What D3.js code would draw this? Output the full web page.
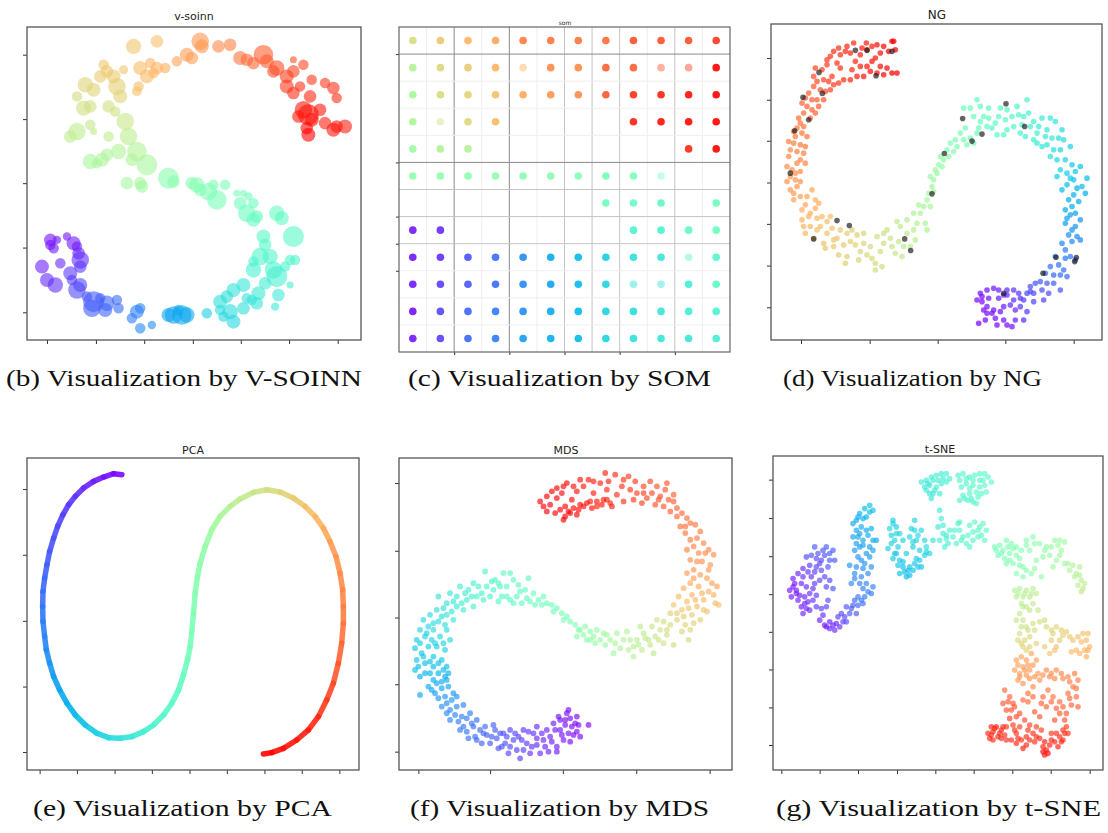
<!DOCTYPE html>
<html>
<head>
<meta charset="utf-8">
<script src="https://cdn.jsdelivr.net/npm/d3@7"></script>
<style>
  body { margin: 0; background: #fff; }
  .title { font-family: "DejaVu Sans", sans-serif; fill: #222; text-anchor: middle; }
  .caption { font-family: "Liberation Serif", "DejaVu Serif", serif; font-size: 24px; fill: #111; }
  .tick line { stroke: #333; }
</style>
</head>
<body>
<svg id="fig" width="1108" height="833"></svg>
<script>
// ---------- data (arbitrary units per panel) ----------
// V-SOINN nodes: [x, y, weight, colour position]
const soinnNodes = [
  [40,86,2.2,.72],[47,87.5,1.8,.73],[60,87.5,2.5,.8],[60.5,86,2,.8],[65.5,86,1.8,.82],[69,86.5,1.8,.83],
  [56,83.5,2,.79],[57.5,82.5,1.8,.79],[53,81.5,1.5,.78],[49.5,79.5,1.5,.76],[47,79.5,1.8,.75],[45,81,1.5,.75],
  [42,79.5,2,.74],[44,77,2,.74],[46,78,1.5,.75],[41.5,74,1.5,.73],[41,72.5,1.4,.73],[37,79,1.3,.72],
  [31,80.5,1.5,.72],[32,78.5,1.8,.72],[30,77,1.8,.71],[34,77,2,.71],[25.5,74.5,2.2,.69],[28,73,2,.69],
  [23,71,1.5,.67],[35,74,2.5,.7],[36,71,2,.69],[25,67.5,2.2,.66],[27,68,1.8,.66],[32.5,68,1.8,.66],
  [34.5,66.5,1.5,.65],[37.5,63.5,2.5,.64],[27,62.5,1.5,.63],[28,60.5,1,.63],[23,60.5,2.5,.62],[21,59,1.8,.62],
  [32.5,59,1.5,.62],[38.5,59,2.5,.62],[41,54.5,2.8,.6],[35.5,54.5,2.2,.6],[32,53.5,1.8,.59],[30.5,52,2,.59],
  [27,51.5,2.2,.58],[29,51,1.5,.58],[44,50.5,3,.58],[39.5,52,1.8,.59],[38,45,1.8,.57],[42,45,1.8,.57],[42.5,44,1.8,.57],
  [72,82.5,2,.85],[74,82,1.8,.86],[79,83.5,2.8,.88],[80,81.5,2,.88],[76,81,1.8,.87],[83,79.5,2.2,.9],
  [82,78.5,1.8,.9],[88,82,1,.9],[88,78.5,1.8,.91],[91,80.5,1.5,.91],[86,77,2,.92],[93.5,76,1.5,.93],
  [97.5,75,1.5,.93],[100,73.5,1.8,.94],[101,70.5,1.5,.94],[86,74,2,.93],[90,74,1.5,.94],[88,72,1.8,.94],
  [93,71,1.8,.95],[91,67,2.5,.97],[92.5,65.5,3,.98],[96,67,1.8,.97],[89.5,65,1.8,.97],[93.5,64,2,.98],
  [97.5,63,1.8,.96],[92,61.5,1.8,.99],[92.5,59.5,2,1],[100,61,2,.97],[103.5,62,2,.96],[101,62,1.8,.97],
  [50.5,46.5,3,.52],[52,45.5,1.8,.52],[57.5,45,1.8,.51],[59,44.5,2.2,.51],[60,43,1.8,.5],[62.5,42.5,2.5,.5],
  [65,40,2.8,.49],[64,44.5,1.5,.5],[67.5,44.5,1.5,.49],[71,42,1,.48],[73,42,1,.48],[74.5,41,1.2,.47],
  [72,39,1.8,.47],[76,39,1.5,.46],[74,36,2.5,.46],[77,35,1.8,.45],[76,34,2,.45],[83,36,2.2,.45],[84.5,34.5,2,.44],
  [88,29,3,.43],[79,29,2,.43],[79.5,26.5,1.8,.42],[78,23,2.5,.41],[81,23,2.2,.41],[76,21.5,1.5,.4],
  [87,22,1.5,.41],[88.5,22,1.5,.41],[76,19,2.2,.39],[82,19,2.5,.4],[83,17,3,.39],[85.5,20,1.5,.4],
  [87,14.5,1,.38],[83.5,11.5,1.8,.37],[82.5,8,1.2,.37],[79.5,15,1.8,.38],[77.5,12,2,.37],[77,9,1.8,.36],
  [73,14.5,2,.36],[70,13,2,.35],[68,11,1.8,.34],[66,9.5,2,.34],[66,7,1.5,.33],[69,6.5,2.2,.33],
  [73,7.5,1.8,.34],[70,3.5,2,.32],[67,5,1.5,.32],[74,10.5,1.5,.35],[75.5,10,1.5,.35],[62,6,1.5,.3],
  [54.5,5.5,2.8,.23],[56,5.5,2.2,.23],[52,5.5,2.5,.22],[50.5,5.5,2,.22],[53.5,7,1.5,.23],[41,6.5,2,.17],
  [42,7.5,1.5,.17],[39.5,4.5,1.5,.16],[42,1.5,1.5,.18],[45.5,2.5,1.2,.19],[35,10,1.5,.14],[35.5,7.5,1.5,.14],
  [32,9,2.2,.13],[31.5,7,2,.13],[30,10.5,1.5,.12],[28,9.5,3,.12],[27.5,7.5,2.5,.12],[26,11,1.5,.11],
  [23,13,2.5,.09],[24,14.5,2,.09],[21.5,16,1.5,.08],[21,18,2,.07],[24,20,1.8,.07],[24,22,2.5,.06],
  [23.5,24,1.8,.05],[23,26,1.5,.04],[22,27,2,.03],[20,29,1.2,.02],[18,21,1.5,.05],[15,28,1.8,.02],
  [16,25.5,1.5,.03],[15,26.5,1.5,.02],[17,28,1.2,.02],[12.5,20,2,.04],[14,16,2,.05],[16.5,14.5,2.2,.06]
];
const soinnXTicks = [14, 28.7, 43.2, 57.8, 72.2, 86.7, 101.3];
const soinnYTicks = [83.5, 64.2, 45, 25.7, 6.3];

// SOM: colour position of the unit in each grid cell (null = empty cell)
const somValues = [
  [.67,.72,.75,.78,.84,.85,.85,.86,.90,.90,.90,.93],
  [.60,.68,.71,.75,.76,.82,.82,.88,.88,.90,.92,1],
  [.58,.67,.69,.73,.77,.80,.82,.89,.94,.96,.98,1],
  [.59,.66,.68,.74,null,null,null,null,.96,.98,.99,1],
  [.56,.60,.61,null,null,null,null,null,null,null,.95,1],
  [.53,.53,.53,.53,.52,.52,.51,.48,.50,.50,null,null],
  [null,null,null,null,null,null,null,.46,.45,.44,null,.46],
  [.03,.05,null,null,null,null,null,null,.40,.40,.44,.46],
  [.03,.06,.10,.14,.18,.23,.26,.30,.34,.36,.42,.41],
  [.03,.08,.11,.14,.18,.22,.26,.31,.33,.35,.38,.43],
  [.02,.09,.13,.16,.19,.23,.26,.31,.33,.36,.38,.40],
  [.03,.08,.13,.16,.21,.24,.26,.31,.34,.36,.36,.38]
];
const somPale = [[1,4],[1,9],[1,10],[3,1],[5,9],[8,10],[9,8],[9,9]];
const somDarkCols = [2, 4], somMidCols = [6, 7, 8, 10];
const somDarkRows = [1, 5], somMidRows = [6, 7, 8];
const somXTicks = [2, 4, 6, 8, 10];
const somYTicks = [1, 5, 7, 8, 9];

// NG: data samples [x, y, colour position] and the black network nodes [x, y]
const ngSamples = [
  [46,87.5,1],[46.5,85,1],[44.5,84.5,1],[45.5,87.5,1],[42,84,.98],[40.5,82.5,.97],[39.5,81.5,.97],[38,85,.97],
  [37.8,87,.96],[39.5,86,.96],[36,83.5,.96],[34.5,81.5,.95],[33,84,.95],[31.5,84.5,.95],[30,83.5,.94],[29,81,.94],
  [28,84.5,.94],[27,83,.93],[34,87,.95],[38,80,.97],[39,78.5,.98],[41,78,.98],[43,77.5,.99],[45.5,78,1],
  [37,77,.97],[35,77,.96],[33,76,.95],[31,76,.94],[29.5,75,.93],[28,74.5,.92],[26.5,75.5,.92],[25,76,.91],
  [23,75.5,.9],[22.5,79.5,.91],[24.5,79,.92],[26,80.5,.92],[24,73,.9],[25.5,72.5,.9],[27,73,.91],[22,74,.89],
  [20.5,72,.88],[21.5,70,.88],[23,70,.88],[25,70,.89],[20,68,.87],[21.5,67,.87],[23.5,68,.88],[18.5,69,.87],
  [19,66,.86],[17.5,64.5,.86],[21,64.5,.86],[19,62,.85],[17,61.5,.85],[16,60.5,.84],[18.5,60,.85],[20,59,.85],
  [14.5,57.5,.83],[16,57,.83],[18,56.5,.84],[19.5,56,.84],[15,55,.82],[17,54.5,.83],[19,54,.83],[14.5,53,.82],
  [18,52,.82],[19.5,51,.82],[14,50,.81],[15.5,49,.81],[18,48.5,.81],[15,47,.8],[16.5,46,.8],[14,45.5,.8],
  [18,45.5,.8],[15,43,.79],[16,40,.78],[20,41,.77],[21.5,43,.77],[22.5,40,.76],[23.5,39,.76],[18.5,37,.76],
  [21,36,.75],[23,34.5,.74],[24.5,35,.74],[27,35,.73],[26,33.5,.73],[18.5,34,.75],[19,32,.75],[21,32,.74],
  [24,32,.73],[19.5,30,.74],[22,28.5,.73],[25,27,.72],[25.5,25.5,.72],[28,26,.71],[29,28.5,.71],[30,31,.71],
  [32,30,.7],[33.5,31,.7],[35,29.5,.69],[29.5,23.5,.7],[32,23,.69],[31.5,21,.69],[34.5,26.5,.69],[37,30,.68],
  [37,27,.68],[36,24.5,.68],[39,26,.67],[39.5,22.5,.67],[40.5,21,.67],[40.5,19,.66],[42.5,20,.66],[41,29,.66],
  [43,30,.65],[44,31,.65],[45,28.5,.65],[45.5,26,.65],[46.5,24,.64],[48.5,23,.63],[49,26,.63],[48,32,.63],
  [47,33.5,.62],[50,34,.62],[52,31,.61],[52.5,28,.61],[51,26,.61],[56,31,.6],[55.5,33,.59],[54,36,.59],
  [52,36,.59],[55,38,.58],[56,40,.57],[56.5,42,.57],[57.5,44,.56],[58,46,.56],[59,48,.55],[57,47,.56],
  [59.5,50.5,.55],[61,52,.54],[60,53,.54],[62.5,53,.53],[64,54.5,.52],[63,57,.51],[65,56,.5],[66,60,.49],
  [67,58,.49],[68,56.5,.49],[69,58.5,.48],[70,57,.47],
  [71,60,.46],[71.5,61.5,.46],[67,67.5,.46],[69,67.5,.46],[71,70,.45],[72,68,.45],[74.5,67.5,.44],[70,65,.46],
  [73,65,.45],[74,62,.44],[75.5,61.5,.43],[76.5,63,.43],[77,59.5,.43],[79,59.5,.42],[80,61,.42],[78,67.5,.43],
  [80,67,.42],[83,68,.41],[86,70,.40],[83.5,65.5,.41],[85,65,.40],[82,62,.41],[84,60,.40],[85.5,59,.39],
  [88,58,.38],[87,62,.39],[88,63.5,.38],[90.5,64.5,.37],[93,64.5,.36],[94.5,63.5,.35],[89.5,62,.37],[92,61,.36],
  [89,57,.37],[90.5,56,.36],[92,56.5,.35],[94,55,.34],[93,53,.34],[96.5,61,.33],[97,58,.33],[99,56,.31],
  [96,55,.32],[95,52,.32],[96,49,.31],[95,47,.3],[98,48,.3],[99.5,50.5,.29],[102,50,.28],[104,46.5,.27],
  [100,46,.28],[98,44.5,.27],[101,43.5,.25],[103.5,42,.24],[96.5,43,.27],[98.5,40,.24],[101.5,39.5,.23],
  [97.5,37,.23],[99,35.5,.22],[102,34,.2],[97.5,33,.22],[99.5,31,.2],[101,29,.19],[102,28,.18],[98.5,29.5,.19],
  [96.5,27,.18],[97.5,25,.17],[99,23,.16],[100.5,22,.15],[94.5,23,.17],[95.5,20.5,.15],[98,17,.14],[97,19,.14],
  [93,20,.15],[91.5,18,.13],[92,15,.12],[94,15,.12],[96,13,.11],[90,15.5,.12],[88.5,15,.11],[87,14,.1],
  [88,12,.1],[91,10,.09],[90.5,13,.1],[86,12,.09],[85,10,.08],[84,8,.08],[86,6.5,.08],[82,13,.07],[83.5,12,.07],
  [80,13,.06],[80,11.5,.06],[82,10,.06],[79,11.5,.05],[81,8.5,.05],[77.5,13,.04],[76,13.5,.03],[74,13,.02],
  [72,12,.02],[71,10,.01],[72.5,9.5,.01],[74,8,.02],[76,7,.02],[74,6,.02],[75.5,6,.02],[71.5,3,0],[73.5,4,.01],
  [77,2.5,.01],[80,2.5,.02],[81.5,2,.03],[82.5,4,.04],[85,4,.05],[77.5,10.5,.04],[79,8,.04],
  [43,86,.99],[41,86.5,.98],[36.5,85.5,.96],[32,86,.95],[29.5,85.5,.94],[26,82,.93],[30,79.5,.94],[33.5,79,.95],
  [36,80,.96],[42,80,.98],[44,79.5,.99],[47,78,1],[27.5,77,.92],[22,77,.9],[19.5,70.5,.87],[22.5,66,.87],
  [18,63,.85],[16.5,59,.84],[17,51,.82],[16.5,48,.81],[17,44,.8],[16,42,.79],[18,41,.78],[19.5,38.5,.77],
  [20.5,35,.75],[22.5,37.5,.76],[23,31,.73],[26,30,.72],[27.5,31.5,.72],[28,28,.71],[31,26.5,.7],[33,27.5,.7],
  [35.5,22,.68],[38,23.5,.67],[42,24.5,.66],[43,27,.66],[47.5,27.5,.64],[50,30,.62],[53,33,.6],[53.5,38.5,.59],
  [57,38,.58],[58,42.5,.57],[58.5,49,.56],[60.5,50,.55],[62,55,.52],[64.5,58,.5],[67.5,61.5,.48],[72,63.5,.46],
  [74.5,64.5,.45],[77.5,65,.44],[79.5,64,.43],[81.5,65,.42],[84.5,62.5,.41],[86.5,66,.40],[89,60,.38],
  [91.5,59,.37],[93.5,58.5,.36],[95.5,58.5,.34],[97.5,52,.31],[99,46.5,.29],[100.5,48.5,.29],[102.5,44,.27],
  [100,41.5,.25],[99.5,38,.24],[100.5,36,.22],[98,34.5,.22],[100.5,32,.2],[99.5,27.5,.18],[97.5,22.5,.16],
  [96,17.5,.14],[94,17.5,.13],[92.5,12,.1],[88,9.5,.09],[87,12.5,.09],[84,10.5,.07],[82.5,7,.05],[78,6.5,.02],
  [79,4,.02],[76.5,4.5,.02],[73,7,.01],[72.5,11,.01],[74.5,10.5,.02]
];
const ngNodes = [
  [34.5,84.8],[38,84.8],[45.5,84.5],[23.6,78.2],[40.7,77.2],[24.6,71.9],[18.8,70.7],[20.5,64],[16.3,60.7],
  [15,48],[29,33.8],[32.7,32.3],[22,28.3],[49.3,28.3],[51.1,24.8],[57.5,41.8],[61.2,53.9],[66.7,64.4],
  [69.5,57.6],[72.5,59.7],[79.7,68.8],[85.3,62],[94.7,22.8],[100.8,22.7],[100.3,21.5],[90.8,18],[79,12]
];
const ngXTicks = [18.2, 38.8, 59.2, 79.5, 100];
const ngYTicks = [82.5, 70, 57.7, 45.2, 32.8, 20.3, 7.8];

// PCA: samples along the embedded curve [x, y, colour position]
const pcaCurve = [
  [36.5,89.5,0],[34,89.8,.01],[31,88.8,.02],[28,87.5,.03],[25,85.5,.05],[22.5,83,.06],[20.5,80.5,.07],
  [18.8,77.5,.08],[17.2,74,.09],[16,70.5,.1],[14.8,66.5,.11],[14,62.5,.12],[13.3,58.5,.13],[12.8,54.5,.14],
  [12.7,50,.15],[12.8,45.5,.16],[13.3,41,.17],[13.8,37,.18],[14.8,33,.19],[16,29,.21],[17.8,25,.22],
  [20,21,.24],[22.5,17.5,.26],[25.5,14.5,.28],[29,12,.3],[32.5,10.7,.32],[36,10.5,.34],[39.5,11,.36],
  [43,12.5,.38],[46,14.5,.4],[49,17.5,.42],[51.5,21,.43],[53.5,25,.44],[55,29.5,.45],[56.2,34,.47],
  [57,38,.48],[57.5,42.5,.49],[58,48,.5],[58.5,54,.51],[59.2,59,.52],[60,63,.53],[61.5,68,.54],
  [63.5,73,.56],[66,77,.58],[69,80,.6],[72,82.2,.62],[76,84.2,.64],[80,85,.66],[84,84.3,.68],[88,82.5,.7],
  [91.5,80,.72],[94.5,77,.74],[97,73.5,.76],[99,69.5,.78],[100.8,65,.8],[102,60,.81],[102.8,55,.82],
  [103,50,.83],[103,45,.84],[102.5,39,.86],[101.5,33,.88],[100,27,.9],[98,22,.92],[95.5,17,.94],
  [92.5,13,.96],[89,10,.97],[85,7.5,.98],[81.5,6.2,.99],[79,5.8,1]
];
const pcaXTicks = [11.8, 23, 34.3, 45.5, 56.8, 68, 79.3, 90.5, 101.8];
const pcaYTicks = [85.2, 65.5, 45.7, 26, 6.4];

// MDS samples [x, y, colour position]
const mdsSamples = [
  [51,81.5,1],[53,83,1],[54.5,84.5,1],[54,80.5,1],[56,82.5,1],[57.5,84,.99],[59,87,.99],[58.5,80,1],[58,76,1],
  [60,78,1],[60.5,82,.99],[62,84.5,.98],[62.5,79,.99],[64,80,.98],[64,86,.97],[65.5,88,.97],[66,81.5,.97],
  [67,84,.97],[68,80,.96],[69,87,.96],[70,82,.96],[70.5,90,.96],[71,85,.95],[72,81,.95],[73.5,89.5,.95],
  [74,83.5,.94],[75.5,86,.94],[76,81.5,.94],[77.5,89,.93],[78,85,.93],[79,82,.93],[80,84,.92],[81.5,81,.92],
  [82,86,.92],[83,82.5,.91],[84,87.5,.91],[84.5,84,.91],[85.5,80.5,.9],[86,86,.9],[87,83,.9],[88,80,.89],
  [88.5,85,.89],[89.5,82,.89],[91,81.5,.88],[90,78.5,.88],[92,77,.87],[93.5,78,.87],[95,76.5,.86],[93,74,.86],
  [96,75,.85],[97.5,74.5,.85],[94.5,72,.85],[96,70,.84],[99,72.5,.84],[97,68,.83],[100,69,.83],[95,67,.83],
  [98.5,66,.82],[101.5,67,.82],[103,65.5,.81],[96,64,.81],[99.5,63.5,.81],[102,62.5,.8],[97,61,.8],[95,60,.79],
  [99,59.5,.79],[101,58.5,.78],[104,56,.78],[96,57,.77],[98.5,56,.77],[101.5,54.5,.76],[94,55.5,.76],
  [96.5,53.5,.75],[100,52,.75],[103.5,51,.74],[92.5,53,.74],[95,51.5,.73],[98,50,.73],[101,48.5,.72],
  [91,50.5,.72],[93.5,49,.71],[96.5,47.5,.71],[99,46,.7],[90,48,.7],[92,46,.69],[94.5,44.5,.69],[97,45,.69],
  [95.5,40,.68],[93.5,42.5,.68],[90,44.5,.67],[88,45.5,.66],[86,46,.65],[87,43,.65],[89,41.5,.66],[91,38.5,.66],
  [84.5,44,.64],[85.5,41,.64],[88,39,.65],[83.5,40,.63],[85,36,.63],[82,42,.62],[81,44,.62],[80,40,.61],
  [79,38,.61],[81.5,37,.62],[79,35,.6],[77,42.5,.6],[76,40,.59],[74,42,.58],[75,37.5,.58],[73,36,.57],
  [72,40,.57],[70,42,.56],[69,40,.55],[68,43,.55],[67,41,.54],[66,42.5,.53],[65,40,.53],[64,41.5,.52],
  [64.5,44,.52],[62.5,43,.51],[61.5,44.5,.5],[60,45.5,.5],[59,47,.49],[57.5,48,.49],[56,49.5,.48],
  [54.5,50.5,.48],[53,51,.47],[52,53,.47],[50.5,52,.46],[49,54,.46],[49.5,50.5,.46],[47.5,58.5,.45],
  [47,52.5,.45],[45.5,51,.45],[45,54.5,.44],[44,53,.44],[43,51,.44],[42,52,.43],[42,60,.43],[40,60,.43],
  [41,56,.43],[39.5,53,.42],[38.5,57,.42],[37.5,58,.42],[37,55,.41],[36,53,.41],[34.5,60.5,.41],[35,56,.41],
  [34,52,.4],[32.5,56,.4],[32,53,.4],[31,50,.39],[29.5,55,.39],[29,52,.38],[28,49,.38],[27,56,.38],
  [26,53,.37],[26,50,.37],[25,46,.36],[24,54,.36],[23,51,.35],[23,47.5,.35],[22.5,44.5,.34],[20.5,53,.35],
  [20,49,.34],[20.5,45.5,.33],[19,43,.32],[18,47.5,.33],[16,46,.32],[17.5,44,.32],[16.5,41,.31],[15,43,.31],
  [14,40,.3],[18.5,40,.31],[21,41,.32],[24,40,.32],[22.5,37,.3],[20,38,.3],[17.5,38,.3],[13.5,37.5,.29],
  [15.5,36,.28],[19,35,.28],[21.5,34,.28],[23,32,.27],[14,34,.28],[16.5,33,.27],[19,32,.26],[13.5,31,.27],
  [15,29,.25],[18,30,.25],[20.5,30,.25],[22.5,29,.24],[23.5,30,.24],[17.5,26,.23],[20,27,.23],[21.5,25.5,.22],
  [23.5,26,.22],[15,23.5,.22],[19.5,24,.21],[22.5,23,.2],[24.5,22,.2],[26,23,.19],[21.5,20,.19],[24,19,.18],
  [26,20,.18],[28,20.5,.17],[27.5,17,.17],[24,16,.17],[30,18,.16],[30.5,15,.15],[28,14,.15],[27,13,.15],
  [32,16,.14],[33,13,.14],[29.5,10.5,.14],[34.5,14,.13],[35,11.5,.12],[32,10,.13],[37.5,13,.12],[38,10.5,.11],
  [36,9,.11],[40,12,.1],[40.5,9,.1],[38.5,7.5,.1],[42,13,.09],[43,10,.09],[41.5,6,.09],[44,7,.08],
  [44.5,11,.08],[46,13,.07],[47,9,.07],[45,4.5,.08],[48,6,.06],[49,12,.06],[50,14,.05],[50,8.5,.05],
  [51,6,.05],[52,10,.04],[53,13,.04],[53.5,6.5,.04],[55,15,.03],[54.5,9.5,.03],[56,6.5,.03],[56.5,17,.02],
  [57,13,.02],[58,10,.02],[59.5,19,.01],[60,16.5,.01],[60.5,14,.01],[61,11.5,.01],[60,9.5,.01],[62,17,0],
  [62.5,14.5,0],[63,11,0],[65.5,14.5,0],[58.5,16,.01],
  [58.5,77,1],[59.5,78.5,1],[61,79.5,.99],[62,77.5,.99],[63,80.5,.99],[65,81,.98],[66.5,79.5,.98],[68,81.5,.97],
  [69.5,80.5,.97],[71,82,.96],[72.5,80,.96],[57,79,1],[55.5,78,1],[53,78.5,1],[52,80,1],[56,85.5,1],[58,86,.99],
  [61,86,.98],[63,88,.98],[67,87.5,.97],[71.5,87.5,.96],[76,88,.94],[79.5,87.5,.93],[82,84,.92],[86.5,82,.9],
  [89,87,.89],[91,83.5,.88],[92,79.5,.88],[94.5,74,.86],[98,70.5,.84],[100.5,66,.82],[98,63.5,.81],[101.5,61,.8],
  [97,58.5,.79],[103,53.5,.76],[99.5,54,.76],[102.5,57,.78],[97.5,52,.74],[104.5,50.5,.73],[95.5,49.5,.72],
  [100,49,.72],[92,48,.7],[94,47,.7],[96,43,.69],[89,43,.67],[86.5,40,.65],[84,38.5,.64],[82.5,40.5,.63],
  [80.5,38.5,.62],[78,40,.6],[77.5,37,.6],[73.5,39,.58],[71,41.5,.57],[70.5,38.5,.56],[67.5,39,.55],[66,40,.54],
  [63,43,.52],[62,41,.52],[58,46,.5],[55,48.5,.48],[51.5,50.5,.47],[48,51.5,.46],[46.5,55,.45],[44.5,56.5,.44],
  [43,58,.44],[41,53,.43],[39,56,.42],[38.5,51.5,.42],[36.5,57.5,.41],[33.5,54,.4],[30.5,53,.39],[31,57,.39],
  [28.5,54,.38],[27.5,51,.38],[25,51.5,.36],[24.5,48.5,.36],[22,49.5,.34],[21.5,47,.34],[19,45,.33],[17,42,.31],
  [15,39,.3],[19.5,39,.31],[23,43,.33],[22,39,.31],[16,35,.28],[18,33.5,.27],[20.5,33,.27],[22,31,.26],
  [14.5,32,.27],[16.5,30,.25],[19,28,.24],[21.5,27.5,.23],[23,28,.23],[18.5,25,.22],[20.5,22.5,.2],[23,21,.19],
  [25,24,.2],[23,18,.18],[25.5,17.5,.17],[26.5,15.5,.16],[29,16.5,.16],[29,12.5,.15],[31,14,.14],[31.5,11,.14],
  [34,12,.13],[33.5,9,.12],[36.5,11,.12],[37,14.5,.12],[39,12,.1],[41,11,.1],[39.5,8,.1],[42,8,.09],
  [43.5,12,.09],[45.5,10,.08],[46,7,.08],[47.5,12.5,.07],[48.5,8,.06],[50,10.5,.05],[51.5,12,.05],[52.5,8,.04],
  [54,11,.04],[55.5,13,.03],[56,8,.03],[57.5,11.5,.02],[58.5,14.5,.02],[59,18,.01],[61.5,15,.01],[62,12.5,0],
  [59.5,12,.02],[57,16,.02]
];
const mdsXTicks = [14.5, 36, 57.8, 79.8, 101.8];
const mdsYTicks = [87, 66.7, 46.7, 26.7, 6.5];

// t-SNE samples [x, y, colour position]
const tsneSamples = [
  [15,55,.02],[16,56,.02],[15.5,53,.02],[17,54,.03],[16,58.5,.03],[17.5,52,.03],[18.5,50,.03],[19,48,.04],
  [20,49.5,.04],[20.5,51.5,.05],[19.5,53,.04],[18.5,57,.04],[20,56,.05],[17.5,60,.04],[19,61.5,.05],
  [20.5,60.5,.06],[21.5,59,.06],[22.5,57,.07],[21,54,.06],[23,53.5,.07],[23,50,.07],[24.5,49.5,.08],
  [26,50,.08],[26.5,52,.09],[24,46,.04],[25.5,44.5,.03],[27,43.5,.04],[28.5,43,.05],[30,44,.06],
  [31,45.5,.07],[29.5,47,.08],[30.5,48,.09],[32,50,.1],[33,48,.11],[34,50.5,.12],[34.5,52,.13],
  [35.5,50.5,.12],[35,48,.11],[32,45.5,.09],[24.5,64,.09],[23.5,66,.1],[25,67,.11],[26,68,.12],[27,66,.11],
  [28,67,.12],[28.5,64,.11],[26.5,62,.1],[24.5,61,.09],[23,62,.08],[25.5,59,.08],[27,58,.09],[24,58,.08],
  [26,56,.09],[28,55.5,.1],[21.5,65.5,.1],[22.5,68,.11],[20,65,.09],
  [16.5,57,.02],[17,55,.03],[18,53.5,.03],[19.5,51,.04],[21,49,.05],[22,52,.06],[22,55.5,.06],[19,59,.05],
  [21,62.5,.07],[22.5,60.5,.07],[24,63,.08],[25.5,65.5,.1],[27,64,.11],[23,64.5,.09],[25,47.5,.05],[27,45.5,.04],
  [29,45,.05],[31.5,47,.08],[33.5,49.5,.11],[26,44,.03],[28,44.5,.04],
  [34,75,.22],[35,76,.23],[36,78,.24],[37.5,79.5,.26],[39,80.5,.27],[40,79,.27],[38,77,.25],[36.5,74,.23],
  [35,73,.22],[34,71,.21],[35.5,71,.22],[37,70,.22],[38.5,71.5,.23],[40,70,.23],[41,70,.22],[39,68,.21],
  [36,68,.21],[38,66,.2],[35.5,65,.19],[37.5,63,.2],[39.5,62,.19],[38.5,60,.18],[36.5,59,.17],[34.5,60,.18],
  [33.5,57,.17],[36,57,.16],[38,57,.17],[40,56,.16],[39.5,54,.15],[37.5,53,.15],[37,51,.14],[35.5,53,.15],
  [40,67,.22],[34.5,67,.2],[33,62.5,.19],
  [35.5,77,.23],[37,76.5,.24],[39,78.5,.26],[36,72,.22],[38,73,.23],[39.5,73.5,.24],[37,68.5,.21],[35,69,.21],
  [39,65,.2],[36.5,64,.19],[37,61.5,.18],[35,62,.18],[34.5,58.5,.17],[37,55.5,.16],[38.5,54.5,.16],[36.5,52,.15],
  [46,76,.3],[47,74,.3],[45,73.5,.31],[44.5,67.5,.3],[46.5,70,.31],[48,72,.31],[49,70,.3],[47,66,.29],
  [46,64.5,.28],[48,64,.28],[50,66,.29],[49,62,.27],[48,60,.27],[49.5,60.5,.27],[51,62,.28],[52.5,63,.28],
  [54,64,.29],[55.5,65.5,.3],[57,66,.31],[54.5,62,.28],[52,61,.27],[50,59,.26],[52.5,76,.31],[52.5,73,.32],
  [51,71,.31],[53,70,.31],[52,68,.3],[54.5,73,.32],[55.5,70,.32],[54,67,.3],
  [46,75,.3],[47,72,.31],[45.5,71.5,.3],[45.5,69,.3],[47.5,68,.3],[46.5,66,.29],[47.5,62.5,.28],[49,63.5,.28],
  [50.5,61,.27],[51,59.5,.26],[53.5,62,.28],[53,64.5,.29],[56,66.5,.31],[51.5,73.5,.31],[53.5,71.5,.32],[52,69.5,.31],
  [54.5,87.5,.37],[56,88,.37],[57.5,89,.38],[59,89.5,.38],[60.5,90,.38],[62,90,.39],[57,86.5,.37],[56,85,.37],
  [58,84,.37],[57.5,82.5,.36],[59,86,.38],[60.5,87,.38],[62,87.5,.39],[63,88.5,.39],[55.5,86,.36],[60,84,.37],
  [56.5,87,.37],[58,88,.38],[59.5,88,.38],[61,88.5,.38],[58.5,85,.37],[57,84,.36],
  [65.5,89.5,.41],[67,90,.41],[69,89,.41],[70.5,89.5,.42],[72,90,.42],[73.5,90,.43],[74.5,89,.43],
  [75.5,87.5,.43],[73.5,86.5,.43],[72,86,.42],[70,86.5,.42],[68,87,.41],[66.5,86,.41],[67,83.5,.41],
  [69,84,.42],[70,81.5,.41],[71.5,83,.42],[74,84.5,.43],[66,82,.4],[68.5,82,.41],[71,81,.42],
  [66,88,.41],[68,88.5,.41],[70,88,.42],[72,88,.42],[73,88,.43],[69,85.5,.42],[71,84.5,.42],[72.5,84,.42],
  [67.5,82.5,.41],[69.5,82.5,.41],
  [60,79,.37],[60.5,76.5,.38],[59.5,74,.37],[61,72,.38],[62,70.5,.39],[63,73,.4],[64,71,.4],[65.5,75,.41],
  [66,73,.41],[67,71,.41],[65,69,.41],[68,69,.42],[70,70,.42],[69,74.5,.42],[70.5,75.5,.43],[72,74,.43],
  [73,75,.44],[73.5,70,.44],[71.5,71,.43],[74,73,.44],[61.5,68,.39],[60,70,.38],[69,68,.42],[58,70,.35],[56,68,.33],
  [61,74.5,.38],[62,71.5,.39],[64.5,73,.4],[66.5,70,.41],[68.5,71.5,.42],[70,72.5,.42],[71.5,73,.43],
  [72.5,71.5,.43],[62.5,69,.39],[66,75.5,.41],
  [76.5,68,.48],[78,68.5,.48],[80,70,.49],[81.5,69,.5],[79,67,.49],[77.5,65.5,.48],[79.5,64.5,.49],[81,66,.5],
  [83,68,.51],[84.5,67,.51],[86,70,.52],[88,71,.52],[88.5,69,.53],[87,67,.52],[84,64.5,.51],[82,63,.5],
  [80,63,.5],[85,62,.51],[83,60,.52],[85,59,.52],[87.5,60,.53],[90.5,59,.54],[90,69,.53],[92,68,.54],
  [93,65.5,.55],[91,65,.54],[94.5,70,.55],[96,70,.56],[97.5,69.5,.56],[96.5,67,.57],[95,64,.57],[97.5,63,.58],
  [99,61,.59],[101,60,.6],[102,62,.61],[102.5,58,.62],[103,55.5,.63],[100.5,59,.6],[101.5,56.5,.61],[94,62,.56],
  [96,65.5,.57],[89,64,.53],
  [77,67,.48],[78.5,66,.49],[80.5,68,.49],[82,67.5,.5],[83,65.5,.51],[81,64,.5],[86,68.5,.52],[84,62.5,.51],
  [86,61,.52],[88.5,61.5,.53],[91.5,67,.54],[93.5,68,.55],[95.5,68.5,.56],[98.5,63,.58],[100,62.5,.6],
  [102,59.5,.61],[103.5,57,.62],[102.5,54.5,.63],
  [82.5,55,.6],[84,55.5,.6],[86,55,.61],[88,55.5,.61],[89,54,.62],[87,53,.62],[85,53,.61],[83,53,.61],
  [84.5,51,.62],[86,50,.63],[88,51,.63],[89.5,49,.64],[84,48,.63],[83,46,.64],[85,46,.65],[86,44,.65],
  [88,45,.66],[90,45.5,.66],[91.5,46,.67],[84,42,.66],[83.5,40,.67],[85.5,40,.68],[87,41,.68],[85,38,.69],
  [87,38,.69],[89,39,.69],
  [83.5,54,.6],[85.5,54,.61],[87.5,54,.62],[85,50,.62],[87,49,.63],[84.5,44,.65],[86.5,43,.66],[88.5,43,.66],
  [84.5,39,.68],[86,37,.69],
  [92,44,.68],[93.5,43,.69],[95,44,.69],[96.5,43,.7],[98,42.5,.7],[93.5,40,.71],[91.5,38,.71],[93,36,.72],
  [95,38,.72],[96,40,.71],[100,40,.72],[101.5,41,.73],[103,42,.73],[104.5,42,.74],[104,40,.74],[105,38,.75],
  [103.5,37,.75],[101,37,.75],[99.5,36.5,.74],[104,35,.77],
  [94,42,.69],[97,41.5,.7],[99,41,.71],[94.5,37,.72],[102.5,39.5,.74],[104.5,37,.76],[102,36,.75],
  [83,34,.78],[84.5,35,.78],[86,34,.79],[87.5,36,.78],[89,34,.79],[82.5,31,.79],[84,30,.79],[85.5,31,.8],
  [87,31,.8],[83.5,28,.8],[85,27,.81],[87,28.5,.81],[88,26,.82],[89.5,30,.8],[90,28,.81],[92,31,.82],
  [93.5,30,.82],[95,31,.82],[94.5,28.5,.83],[96.5,30,.83],[98.5,29,.83],[100.5,30,.84],[101.5,28,.84],
  [100,26,.85],[98.5,24,.86],[101,23,.87],[101.5,20,.88],[99.5,20.5,.88],[96,21.5,.87],[94,23,.86],
  [92.5,25,.85],[96,18,.89],[97.5,16,.9],[94.5,16,.9],[92,20,.88],[90.5,21,.88],[88,23,.87],[86.5,24,.86],
  [85,22,.87],[90,17,.9],[89,14,.92],[79.5,25,.87],[81,23,.88],[79,21,.89],[80,19,.9],[82,21,.89],[84,18,.9],
  [82.5,20,.89],
  [83.5,32.5,.78],[85,32,.79],[86.5,32.5,.79],[88,32.5,.8],[84,29,.8],[86,29.5,.8],[88.5,29,.81],[91,29.5,.81],
  [93,29,.82],[97,28.5,.83],[99,27.5,.84],[101,25.5,.85],[99,22.5,.87],[97,20,.88],[95,19.5,.88],[93.5,21.5,.87],
  [98,18,.89],[91,23,.87],[86.5,21.5,.87],[88.5,18.5,.89],[80.5,21.5,.89],[81.5,19,.9],[83,17,.91],
  [74.5,12,.95],[75.5,14,.96],[76,12.5,.96],[77,14,.96],[77.5,11,.96],[78.5,13,.96],[79.5,11.5,.95],
  [75,10.5,.95],[80,14,.94],[81,16.5,.93],[82,14.5,.93],[83,12,.94],[84,14,.93],[84.5,10,.95],[86,8.5,.96],
  [85,7.5,.97],[87,10,.95],[88,12,.94],[88.5,9.5,.95],[90,10.5,.95],[91,8,.97],[91.5,5.5,.99],[92,7,.98],
  [93,8.5,.97],[94.5,9.5,.96],[95.5,8,.97],[96,11,.95],[97.5,12,.94],[97,10,.95],[98,14,.93],[93.5,12,.94],
  [90.5,13,.93],[81.5,10,.95],[80,10,.95],[83,9,.96],[87,14.5,.92],[85.5,16,.91],
  [75.5,11.5,.95],[76.5,13.5,.96],[78,12,.96],[79,14,.95],[76,10,.95],[78.5,10.5,.95],[82.5,13,.94],
  [83.5,10.5,.95],[86,11,.95],[86.5,13,.94],[89,11,.95],[91.5,9.5,.97],[92.5,6,.99],[91,6.5,.99],[93.5,10,.96],
  [96.5,9.5,.96],[95,12,.95],[97,13,.94],[98.5,12,.94]
];
const tsneXTicks = [12.5, 24, 35.5, 47.2, 58.7, 70.2, 81.8, 93.3, 105];
const tsneYTicks = [88.2, 76.7, 65.2, 53.8, 42.5, 31.2, 19.8, 8.5];

const captions = [
  "(b) Visualization by V-SOINN", "(c) Visualization by SOM", "(d) Visualization by NG",
  "(e) Visualization by PCA", "(f) Visualization by MDS", "(g) Visualization by t-SNE"
];

// ---------- helpers ----------
const svg = d3.select('#fig');

// matplotlib "rainbow" colormap
function rainbow(t) {
  const r = Math.min(1, Math.abs(2 * t - 0.5));
  const g = Math.sin(Math.PI * t);
  const b = Math.cos(Math.PI * t / 2);
  return d3.rgb(r * 255, g * 255, b * 255).formatHex();
}

function makePanel(cfg) {
  const [x0, y0, x1, y1] = cfg.box;
  const x = d3.scaleLinear().domain(cfg.xDomain).range([x0, x1]);
  const y = d3.scaleLinear().domain(cfg.yDomain).range([y1, y0]);
  const g = svg.append('g').attr('class', 'panel-' + cfg.id);

  g.append('clipPath').attr('id', 'clip-' + cfg.id)
    .append('rect').attr('x', x0).attr('y', y0).attr('width', x1 - x0).attr('height', y1 - y0);
  const plot = g.append('g').attr('clip-path', `url(#clip-${cfg.id})`);

  g.append('text').attr('class', 'title')
    .attr('x', cfg.titleX).attr('y', cfg.titleY)
    .style('font-size', cfg.titleSize + 'px')
    .text(cfg.title);

  return { g, plot, x, y };
}

function drawFrame(p, cfg) {
  const [x0, y0, x1, y1] = cfg.box;
  p.g.append('g').attr('transform', `translate(${x0},0)`)
    .call(d3.axisLeft(p.y).tickValues(cfg.yTicks).tickFormat('').tickSize(4).tickSizeOuter(0))
    .call(s => s.select('.domain').remove());
  p.g.append('g').attr('transform', `translate(0,${y1})`)
    .call(d3.axisBottom(p.x).tickValues(cfg.xTicks).tickFormat('').tickSize(4).tickSizeOuter(0))
    .call(s => s.select('.domain').remove());
  p.g.append('rect')
    .attr('x', x0).attr('y', y0).attr('width', x1 - x0).attr('height', y1 - y0)
    .attr('fill', 'none').attr('stroke', '#555').attr('stroke-width', 1.3);
}

// ---------- (b) V-SOINN ----------
const cfgB = { id: 'b', title: 'v-soinn', titleSize: 11, titleX: 194, titleY: 20,
  box: [27, 27, 361, 340], xDomain: [8, 108.3], yDomain: [-2, 91.8], xTicks: soinnXTicks, yTicks: soinnYTicks };
const pB = makePanel(cfgB);
const rSoinn = d3.scaleLinear().domain([0, 3]).range([0, 10.5]);
pB.plot.selectAll('circle').data(soinnNodes).join('circle')
  .attr('cx', d => pB.x(d[0])).attr('cy', d => pB.y(d[1]))
  .attr('r', d => rSoinn(d[2]))
  .attr('fill', d => rainbow(d[3])).attr('fill-opacity', 0.6);
drawFrame(pB, cfgB);

// ---------- (c) SOM ----------
const somBox = [399, 27, 730, 352];
const col = d3.scaleLinear().domain([0, 12]).range([somBox[0], somBox[2]]);
const row = d3.scaleLinear().domain([0, 12]).range([somBox[1], somBox[3]]);
const gC = svg.append('g').attr('class', 'panel-c');
gC.append('text').attr('class', 'title').attr('x', 565).attr('y', 25).style('font-size', '6px').text('som');

const edges = d3.range(1, 12);
const lineColor = (k, dark, mid) => dark.includes(k) ? '#8a8a8a' : mid.includes(k) ? '#c4c4c4' : '#eeeeee';
gC.selectAll('line.v').data(edges).join('line').attr('class', 'v')
  .attr('x1', d => col(d)).attr('x2', d => col(d)).attr('y1', somBox[1]).attr('y2', somBox[3])
  .attr('stroke', d => lineColor(d, somDarkCols, somMidCols)).attr('stroke-width', 1);
gC.selectAll('line.h').data(edges).join('line').attr('class', 'h')
  .attr('y1', d => row(d)).attr('y2', d => row(d)).attr('x1', somBox[0]).attr('x2', somBox[2])
  .attr('stroke', d => lineColor(d, somDarkRows, somMidRows)).attr('stroke-width', 1);

const somCells = [];
somValues.forEach((r, i) => r.forEach((v, j) => {
  if (v !== null) somCells.push({ i, j, v, pale: somPale.some(p => p[0] === i && p[1] === j) });
}));
gC.selectAll('circle').data(somCells).join('circle')
  .attr('cx', d => col(d.j + 0.5)).attr('cy', d => row(d.i + 0.5)).attr('r', 3.8)
  .attr('fill', d => rainbow(d.v)).attr('fill-opacity', d => d.pale ? 0.45 : 0.9);

gC.append('g').attr('transform', `translate(${somBox[0]},0)`)
  .call(d3.axisLeft(row).tickValues(somYTicks).tickFormat('').tickSize(3).tickSizeOuter(0))
  .call(s => s.select('.domain').remove());
gC.append('g').attr('transform', `translate(0,${somBox[3]})`)
  .call(d3.axisBottom(col).tickValues(somXTicks).tickFormat('').tickSize(3).tickSizeOuter(0))
  .call(s => s.select('.domain').remove());
gC.append('rect').attr('x', somBox[0]).attr('y', somBox[1])
  .attr('width', somBox[2] - somBox[0]).attr('height', somBox[3] - somBox[1])
  .attr('fill', 'none').attr('stroke', '#666').attr('stroke-width', 1.2);

// ---------- (d) NG ----------
const cfgD = { id: 'd', title: 'NG', titleSize: 12, titleX: 937, titleY: 19,
  box: [771, 24, 1102, 340], xDomain: [9.2, 108.5], yDomain: [-2, 92.7], xTicks: ngXTicks, yTicks: ngYTicks };
const pD = makePanel(cfgD);
pD.plot.selectAll('circle.s').data(ngSamples).join('circle').attr('class', 's')
  .attr('cx', d => pD.x(d[0])).attr('cy', d => pD.y(d[1])).attr('r', 2.8)
  .attr('fill', d => rainbow(d[2])).attr('fill-opacity', 0.72);
pD.plot.selectAll('circle.n').data(ngNodes).join('circle').attr('class', 'n')
  .attr('cx', d => pD.x(d[0])).attr('cy', d => pD.y(d[1])).attr('r', 2.8)
  .attr('fill', '#111').attr('fill-opacity', 0.65);
drawFrame(pD, cfgD);

// ---------- (e) PCA ----------
const cfgE = { id: 'e', title: 'PCA', titleSize: 11, titleX: 193, titleY: 454,
  box: [27, 458, 359, 770], xDomain: [8, 107.7], yDomain: [1, 94.5], xTicks: pcaXTicks, yTicks: pcaYTicks };
const pE = makePanel(cfgE);
const pcaSegs = d3.pairs(pcaCurve);
pE.plot.selectAll('line').data(pcaSegs).join('line')
  .attr('x1', d => pE.x(d[0][0])).attr('y1', d => pE.y(d[0][1]))
  .attr('x2', d => pE.x(d[1][0])).attr('y2', d => pE.y(d[1][1]))
  .attr('stroke', d => rainbow((d[0][2] + d[1][2]) / 2))
  .attr('stroke-width', 5.5).attr('stroke-linecap', 'round').attr('stroke-opacity', 0.9);
drawFrame(pE, cfgE);

// ---------- (f) MDS ----------
const cfgF = { id: 'f', title: 'MDS', titleSize: 11, titleX: 566, titleY: 454,
  box: [399, 458, 732, 770], xDomain: [8.7, 108.5], yDomain: [1, 94.5], xTicks: mdsXTicks, yTicks: mdsYTicks };
const pF = makePanel(cfgF);
pF.plot.selectAll('circle').data(mdsSamples).join('circle')
  .attr('cx', d => pF.x(d[0])).attr('cy', d => pF.y(d[1])).attr('r', 2.9)
  .attr('fill', d => rainbow(d[2])).attr('fill-opacity', 0.65);
drawFrame(pF, cfgF);

// ---------- (g) t-SNE ----------
const cfgG = { id: 'g', title: 't-SNE', titleSize: 11, titleX: 940, titleY: 453,
  box: [773, 456, 1103, 770], xDomain: [10, 109], yDomain: [1, 95.3], xTicks: tsneXTicks, yTicks: tsneYTicks };
const pG = makePanel(cfgG);
pG.plot.selectAll('circle').data(tsneSamples).join('circle')
  .attr('cx', d => pG.x(d[0])).attr('cy', d => pG.y(d[1])).attr('r', 2.8)
  .attr('fill', d => rainbow(d[2])).attr('fill-opacity', 0.65);
drawFrame(pG, cfgG);

// ---------- sub-captions ----------
const capLayout = [
  { x: 6, y: 386, w: 356 }, { x: 408, y: 386, w: 303 }, { x: 783, y: 386, w: 259 },
  { x: 33, y: 816, w: 299 }, { x: 410, y: 816, w: 299 }, { x: 776, y: 816, w: 325 }
];
svg.selectAll('text.caption').data(captions).join('text').attr('class', 'caption')
  .attr('x', (d, i) => capLayout[i].x).attr('y', (d, i) => capLayout[i].y)
  .attr('textLength', (d, i) => capLayout[i].w).attr('lengthAdjust', 'spacingAndGlyphs')
  .text(d => d);
</script>
</body>
</html>
